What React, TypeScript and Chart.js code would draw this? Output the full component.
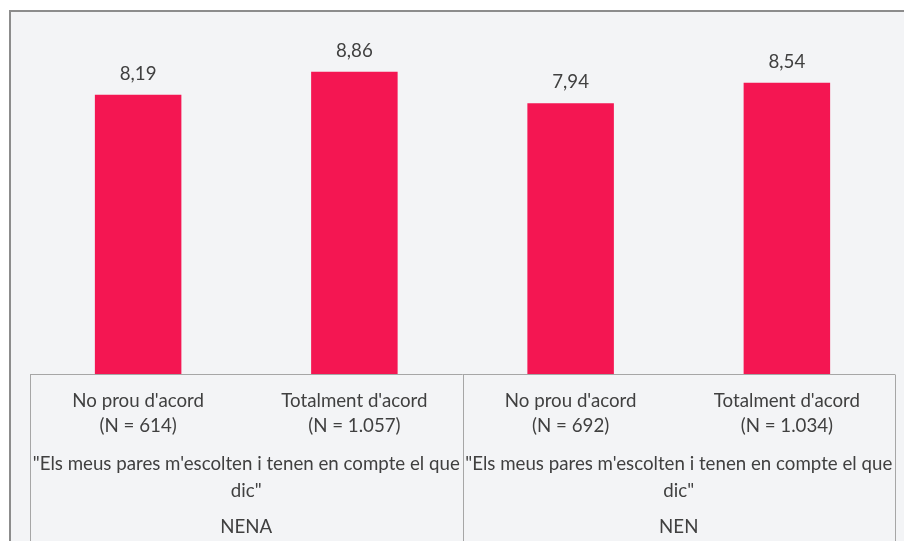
import React, { useEffect, useRef } from "react";
import { Chart, registerables } from "chart.js";

Chart.register(...registerables);

const categories: string[][] = [
  ["No prou d'acord", "(N = 614)"],
  ["Totalment d'acord", "(N = 1.057)"],
  ["No prou d'acord", "(N = 692)"],
  ["Totalment d'acord", "(N = 1.034)"],
];
const values: number[] = [8.19, 8.86, 7.94, 8.54];
const questionLines: string[] = ['"Els meus pares m\'escolten i tenen en compte el que', 'dic"'];
const groups: string[] = ["NENA", "NEN"];
const groupSize = 2;

const FONT = "Lato, 'Open Sans', sans-serif";
const TEXT = "#404040";
const LINE = "#a6a6a6";

const decoPlugin = {
  id: "deco",
  beforeDraw(chart: any) {
    const { ctx, width, height } = chart;
    ctx.save();
    ctx.fillStyle = "#ffffff";
    ctx.fillRect(0, 0, width, height);
    ctx.fillStyle = "#f3f4f6";
    ctx.fillRect(10, 11, width, height);
    ctx.strokeStyle = "#8c8c8c";
    ctx.lineWidth = 2;
    ctx.beginPath();
    ctx.moveTo(10, height);
    ctx.lineTo(10, 11);
    ctx.lineTo(width, 11);
    ctx.stroke();
    ctx.restore();
  },
  afterDraw(chart: any) {
    const { ctx, chartArea, height } = chart;
    const x = chart.scales.x;
    const y = chart.scales.y;
    const meta = chart.getDatasetMeta(0);
    ctx.save();
    // value labels
    ctx.fillStyle = TEXT;
    ctx.font = `18.7px ${FONT}`;
    ctx.textAlign = "center";
    ctx.textBaseline = "middle";
    meta.data.forEach((bar: any, i: number) => {
      ctx.fillText(values[i].toFixed(2).replace(".", ","), bar.x, y.getPixelForValue(values[i]) - 21);
    });
    // axis box
    const base = chartArea.bottom + 0.5;
    ctx.strokeStyle = LINE;
    ctx.lineWidth = 1;
    ctx.beginPath();
    ctx.moveTo(chartArea.left, base);
    ctx.lineTo(chartArea.right, base);
    const seps: number[] = [chartArea.left];
    for (let g = 1; g < groups.length; g++) {
      seps.push((x.getPixelForValue(g * groupSize - 1) + x.getPixelForValue(g * groupSize)) / 2);
    }
    seps.push(chartArea.right);
    seps.forEach((sx) => {
      const px = Math.round(sx) + 0.5;
      ctx.moveTo(px, base);
      ctx.lineTo(px, height);
    });
    ctx.stroke();
    // category labels
    ctx.fillStyle = TEXT;
    ctx.font = `18.7px ${FONT}`;
    categories.forEach((lines, i) => {
      const cx = x.getPixelForValue(i);
      lines.forEach((l, j) => ctx.fillText(l, cx, base + 26 + j * 25));
    });
    // group labels
    groups.forEach((g, gi) => {
      const cx = (seps[gi] + seps[gi + 1]) / 2;
      questionLines.forEach((l, j) => ctx.fillText(l, cx, base + 89 + j * 27));
      ctx.fillText(g, cx, base + 152);
    });
    ctx.restore();
  },
};

export default function App() {
  const ref = useRef<HTMLCanvasElement>(null);
  useEffect(() => {
    const chart = new Chart(ref.current!, {
      type: "bar",
      data: {
        labels: categories.map((c) => c.join(" ")),
        datasets: [
          {
            data: values,
            backgroundColor: "#f41652",
            barPercentage: 0.4,
            categoryPercentage: 1,
          },
        ],
      },
      options: {
        responsive: false,
        animation: false,
        layout: { padding: { top: 33, left: 30, right: 9, bottom: 167 } },
        plugins: { legend: { display: false }, tooltip: { enabled: false } },
        scales: {
          x: { display: false },
          y: { display: false, min: 0, max: 10 },
        },
      },
      plugins: [decoPlugin],
    });
    return () => chart.destroy();
  }, []);
  return (
    <div style={{ position: "fixed", left: 0, top: 0, width: 904, height: 541 }}>
      <canvas ref={ref} width={904} height={541} style={{ display: "block" }} />
    </div>
  );
}
